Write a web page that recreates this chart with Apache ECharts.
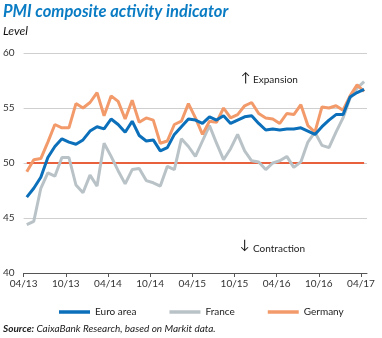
<!DOCTYPE html>
<html><head><meta charset="utf-8">
<script src="https://cdn.jsdelivr.net/npm/echarts@6/dist/echarts.min.js"></script>
<style>html,body{margin:0;padding:0;background:#fff}#c{width:382px;height:338px}</style>
</head><body><div id="c"></div>
<script>
// Monthly data, April 2013 to April 2017
const tickLabels = ['04/13','10/13','04/14','10/14','04/15','10/15','04/16','10/16','04/17'];
const euroArea = [46.9,47.7,48.7,50.5,51.5,52.2,51.9,51.7,52.1,
  52.9,53.3,53.1,54.0,53.5,52.8,53.8,52.5,52.0,52.1,51.1,51.4,
  52.6,53.3,54.0,53.9,53.6,54.2,53.9,54.3,53.6,53.9,54.2,54.3,
  53.6,53.0,53.1,53.0,53.1,53.1,53.2,52.9,52.6,53.3,53.9,54.4,
  54.4,56.0,56.4,56.7];
const france = [44.4,44.7,47.7,49.1,48.8,50.5,50.5,48.0,47.3,
  48.9,47.9,51.8,50.6,49.3,48.1,49.4,49.5,48.4,48.2,47.9,49.7,
  49.4,52.2,51.5,50.6,52.0,53.4,51.8,50.3,51.3,52.6,51.1,50.2,
  50.1,49.4,50.0,50.2,50.6,49.6,50.1,51.9,52.8,51.6,51.4,52.8,
  54.1,55.9,56.8,57.4];
const germany = [49.2,50.3,50.4,51.9,53.5,53.2,53.2,55.4,55.0,
  55.5,56.4,54.3,56.1,55.6,54.0,55.7,53.7,54.1,53.9,51.8,52.0,
  53.5,53.8,55.4,54.1,52.6,53.8,53.7,55.0,54.1,54.4,55.2,55.5,
  54.5,54.1,54.0,53.6,54.5,54.4,55.3,53.4,52.8,55.1,55.0,55.2,
  54.8,56.1,57.1,56.5];
const threshold = 50;

const FONT = 'Lato, "Liberation Sans", sans-serif';
const OFFSET = 0.45; // points plotted mid-month
const toPts = arr => arr.map((v, i) => [i + OFFSET, v]);
const tickVals = tickLabels.map((_, k) => k * 6);
const lastX = euroArea.length - 1 + OFFSET;

const chart = echarts.init(document.getElementById('c'), null, {renderer: 'canvas'});
chart.setOption({
  animation: false,
  textStyle: {fontFamily: FONT},
  grid: {left: 23, right: 15, top: 53, bottom: 65, containLabel: false},
  xAxis: {
    type: 'value', min: 0, max: 48.86,
    axisLine: {onZero: false, lineStyle: {color: '#555', width: 1}},
    axisTick: {customValues: tickVals, length: 4, lineStyle: {color: '#555'}},
    axisLabel: {customValues: tickVals, formatter: v => tickLabels[Math.round(v / 6)],
      fontSize: 10, color: '#333', margin: 6, fontFamily: FONT},
    splitLine: {show: false}
  },
  yAxis: {
    type: 'value', min: 40, max: 60, interval: 5,
    axisLine: {show: false}, axisTick: {show: false},
    axisLabel: {fontSize: 10, color: '#333', margin: 9, fontFamily: FONT},
    splitLine: {lineStyle: {color: '#cfcfcf', width: 1}}
  },
  legend: {
    data: ['Euro area', 'France', 'Germany'],
    left: 54, top: 302, icon: 'rect', itemWidth: 31, itemHeight: 3.5, itemGap: 33,
    textStyle: {fontSize: 10, color: '#222', fontFamily: FONT}
  },
  series: [
    {name: 'Threshold', type: 'line', data: [[OFFSET, threshold], [lastX, threshold]],
      showSymbol: false, lineStyle: {color: '#e8603c', width: 2}, z: 1, silent: true},
    {name: 'France', type: 'line', data: toPts(france), showSymbol: false,
      lineStyle: {color: '#b9c3c7', width: 3}, itemStyle: {color: '#b9c3c7'}, z: 2},
    {name: 'Germany', type: 'line', data: toPts(germany), showSymbol: false,
      lineStyle: {color: '#f39a6b', width: 3}, itemStyle: {color: '#f39a6b'}, z: 3},
    {name: 'Euro area', type: 'line', data: toPts(euroArea), showSymbol: false,
      lineStyle: {color: '#0b6fba', width: 3}, itemStyle: {color: '#0b6fba'}, z: 4}
  ],
  graphic: [
    {type: 'text', left: 3, top: 3, style: {text: 'PMI composite activity indicator',
      fill: '#0a7cc4', font: 'italic bold 16.5px ' + FONT}},
    {type: 'text', left: 3, top: 25, style: {text: 'Level', fill: '#111', font: 'italic 12px ' + FONT}},
    {type: 'text', left: 241, top: 71, style: {text: '↑', fill: '#111', font: '13px ' + FONT}},
    {type: 'text', left: 253, top: 75, style: {text: 'Expansion', fill: '#222', font: '10px ' + FONT}},
    {type: 'text', left: 240, top: 238, style: {text: '↓', fill: '#111', font: '13px ' + FONT}},
    {type: 'text', left: 253, top: 244, style: {text: 'Contraction', fill: '#222', font: '10px ' + FONT}},
    {type: 'text', left: 3, top: 324, style: {
      text: '{b|Source:} CaixaBank Research, based on Markit data.',
      fill: '#222', font: 'italic 10px ' + FONT,
      rich: {b: {fontWeight: 'bold', fontStyle: 'italic', fontSize: 10, fontFamily: FONT, fill: '#222'}}}}
  ]
});
</script></body></html>
